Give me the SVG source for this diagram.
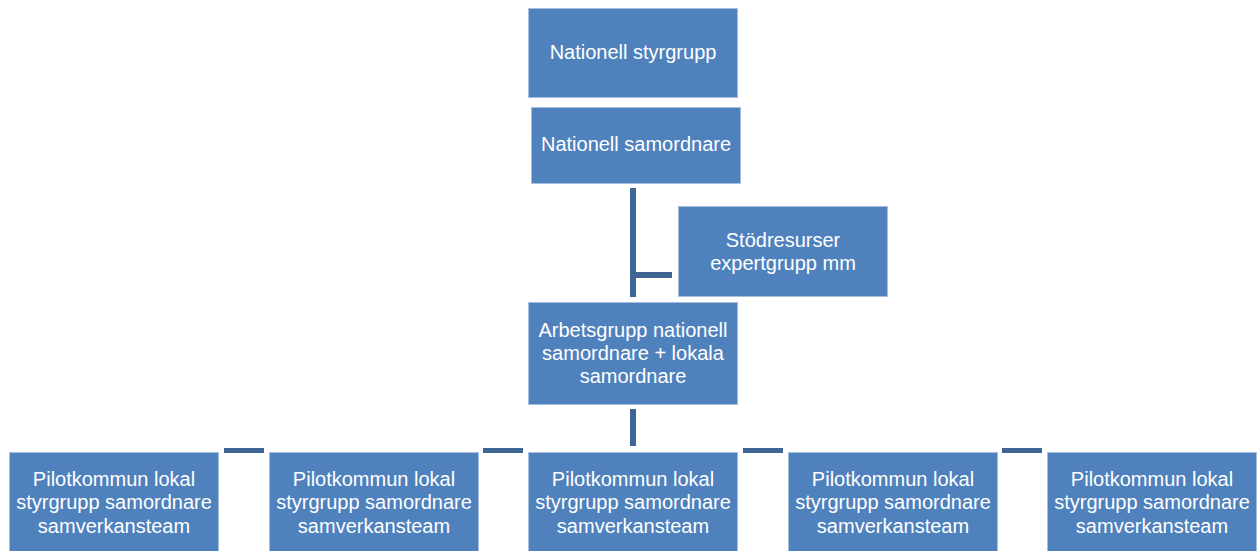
<svg xmlns="http://www.w3.org/2000/svg" width="1260" height="551" viewBox="0 0 1260 551">
<style>
.box{fill:#4F81BD;stroke:#A7BFDE;stroke-width:1}
.t{font-family:"Liberation Sans",Arial,sans-serif;font-size:20px;fill:#FFFFFF;text-anchor:middle}
.c{fill:#3E6594}
</style>
<rect width="1260" height="551" fill="#FFFFFF"/>
<g id="connectors">
<rect class="c" x="630" y="188" width="6" height="109"/>
<rect class="c" x="636" y="272" width="36" height="6"/>
<rect class="c" x="630" y="409" width="6" height="37"/>
<rect class="c" x="224" y="448" width="40" height="5"/>
<rect class="c" x="483" y="448" width="40" height="5"/>
<rect class="c" x="743" y="448" width="40" height="5"/>
<rect class="c" x="1002" y="448" width="40" height="5"/>
</g>
<g id="n1"><rect class="box" x="528.5" y="8.5" width="209" height="89"/><text class="t" x="633" y="59">Nationell styrgrupp</text></g>
<g id="n2"><rect class="box" x="531.5" y="107.5" width="209" height="76"/><text class="t" x="636" y="151">Nationell samordnare</text></g>
<g id="n3"><rect class="box" x="678.5" y="206.5" width="209" height="90"/><text class="t" x="783" y="247">Stödresurser</text><text class="t" x="783" y="270">expertgrupp mm</text></g>
<g id="n4"><rect class="box" x="528.5" y="302.5" width="209" height="102"/><text class="t" x="633" y="337">Arbetsgrupp nationell</text><text class="t" x="633" y="360">samordnare + lokala</text><text class="t" x="633" y="383">samordnare</text></g>
<g id="p1"><rect class="box" x="9.5" y="452.5" width="209" height="100"/><text class="t" x="114" y="486">Pilotkommun lokal</text><text class="t" x="114" y="509">styrgrupp samordnare</text><text class="t" x="114" y="533">samverkansteam</text></g>
<g id="p2"><rect class="box" x="269.5" y="452.5" width="209" height="100"/><text class="t" x="374" y="486">Pilotkommun lokal</text><text class="t" x="374" y="509">styrgrupp samordnare</text><text class="t" x="374" y="533">samverkansteam</text></g>
<g id="p3"><rect class="box" x="528.5" y="452.5" width="209" height="100"/><text class="t" x="633" y="486">Pilotkommun lokal</text><text class="t" x="633" y="509">styrgrupp samordnare</text><text class="t" x="633" y="533">samverkansteam</text></g>
<g id="p4"><rect class="box" x="788.5" y="452.5" width="209" height="100"/><text class="t" x="893" y="486">Pilotkommun lokal</text><text class="t" x="893" y="509">styrgrupp samordnare</text><text class="t" x="893" y="533">samverkansteam</text></g>
<g id="p5"><rect class="box" x="1047.5" y="452.5" width="209" height="100"/><text class="t" x="1152" y="486">Pilotkommun lokal</text><text class="t" x="1152" y="509">styrgrupp samordnare</text><text class="t" x="1152" y="533">samverkansteam</text></g>
</svg>
